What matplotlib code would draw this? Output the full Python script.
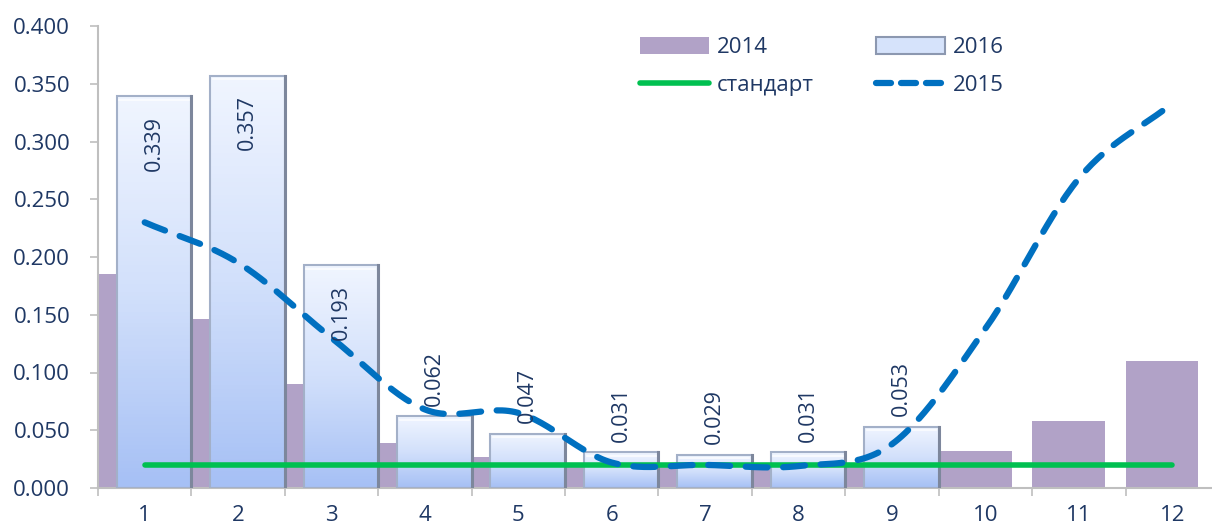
import matplotlib.pyplot as plt
import numpy as np
from matplotlib.colors import LinearSegmentedColormap
from matplotlib.patches import Rectangle
from matplotlib.lines import Line2D

plt.rcParams['font.family'] = ['Open Sans', 'DejaVu Sans']

months = [1, 2, 3, 4, 5, 6, 7, 8, 9, 10, 11, 12]
y2014 = [0.185, 0.146, 0.090, 0.039, 0.027, 0.018, 0.018, 0.016, 0.021, 0.032, 0.058, 0.110]
y2015 = [0.230, 0.195, 0.130, 0.068, 0.065, 0.022, 0.020, 0.019, 0.038, 0.138, 0.268, 0.333]
y2016 = [0.339, 0.357, 0.193, 0.062, 0.047, 0.031, 0.029, 0.031, 0.053]
standard = [0.02] * 12

navy = '#1F3864'


def smooth(x, y, n=30):
    # Catmull-Rom, like Excel's "smoothed line"
    x = np.asarray(x, float)
    y = np.asarray(y, float)
    px = np.concatenate(([2 * x[0] - x[1]], x, [2 * x[-1] - x[-2]]))
    py = np.concatenate(([2 * y[0] - y[1]], y, [2 * y[-1] - y[-2]]))
    t = np.linspace(0, 1, n)
    xs, ys = [], []
    for i in range(1, len(px) - 2):
        for p, out in ((px, xs), (py, ys)):
            p0, p1, p2, p3 = p[i - 1], p[i], p[i + 1], p[i + 2]
            out.append(0.5 * (2 * p1 + (-p0 + p2) * t + (2 * p0 - 5 * p1 + 4 * p2 - p3) * t ** 2
                              + (-p0 + 3 * p1 - 3 * p2 + p3) * t ** 3))
    return np.concatenate(xs), np.concatenate(ys)


fig = plt.figure(figsize=(12.12, 5.31), dpi=100)
# plot area runs a little past the right edge of the picture, as in the original
ax = fig.add_axes([98 / 1212, 43 / 531, 1121 / 1212, 462 / 531])

x = np.array(months, float)
ax.bar(x - 0.11, y2014, width=0.78, color='#B1A2C7', zorder=1)

cmap = LinearSegmentedColormap.from_list('g', ['#A6C0F5', '#D2E0FB', '#F0F5FF'])
x16 = x[:len(y2016)] + 0.1
bars = ax.bar(x16, y2016, width=0.8, color='none', edgecolor='#A3B0C8',
              linewidth=1.5, zorder=3)
for b in bars:
    x0, w, h = b.get_x(), b.get_width(), b.get_height()
    im = ax.imshow(np.linspace(0, 1, 100).reshape(-1, 1), cmap=cmap, origin='lower',
                   extent=[x0, x0 + w, 0, h], aspect='auto', zorder=2)
    im.set_clip_path(b)
    ax.plot([x0 + w, x0 + w], [0, h], color='#7D879C', lw=2.2, zorder=3.5)
    ax.plot([x0 + 0.03, x0 + w - 0.03], [h - 0.003, h - 0.003], color='white', lw=1.2, alpha=0.8, zorder=3.5)

for xi, v in zip(x16, y2016):
    if v > 0.1:
        ax.text(xi, v - 0.017, f'{v:.3f}', rotation=90, ha='center', va='top',
                fontsize=15.5, color=navy, zorder=5)
    else:
        ax.text(xi, v + 0.009, f'{v:.3f}', rotation=90, ha='center', va='bottom',
                fontsize=15.5, color=navy, zorder=5)

ax.plot(x, standard, color='#00C050', lw=4, solid_capstyle='round', zorder=4)
sx, sy = smooth(x, y2015)
ax.plot(sx, sy, color='#0070C0', lw=4.5, dashes=(3.5, 2.5), dash_capstyle='round', zorder=4)

ax.set_xlim(0.5, 12.5)
ax.set_ylim(0, 0.4)
ax.set_yticks(np.arange(0, 0.401, 0.05))
ax.set_yticklabels([f'{v:.3f}' for v in np.arange(0, 0.401, 0.05)])
ax.set_xticks(x)
ax.set_xticklabels([str(m) for m in months])
ax.set_xticks(np.arange(0.5, 12.6, 1), minor=True)
ax.tick_params(axis='x', which='major', length=0, pad=12, labelsize=16, labelcolor=navy)
ax.tick_params(axis='x', which='minor', length=6, color='#BFBFBF', width=1.2)
ax.tick_params(axis='y', length=6, color='#BFBFBF', width=1.2, pad=14, labelsize=16, labelcolor=navy)
for s in ['top', 'right']:
    ax.spines[s].set_visible(False)
for s in ['left', 'bottom']:
    ax.spines[s].set_color('#BFBFBF')
    ax.spines[s].set_linewidth(1.5)

handles = [
    Rectangle((0, 0), 1, 1, facecolor='#B1A2C7', edgecolor='none'),
    Line2D([], [], color='#00C050', lw=4, solid_capstyle='round'),
    Rectangle((0, 0), 1, 1, facecolor='#D6E3FB', edgecolor='#8C98B0', lw=1.5),
    Line2D([], [], color='#0070C0', lw=4.5, dashes=(2.4, 1.6), dash_capstyle='round'),
]
labels = ['2014', 'стандарт', '2016', '2015']
leg = fig.legend(handles, labels, ncol=2, frameon=False,
                 loc='upper left', bbox_to_anchor=(620 / 1212, 1 - 17 / 531), fontsize=16,
                 handlelength=3.1, handleheight=0.8, columnspacing=2.8, labelspacing=0.75,
                 handletextpad=0.35)
for t in leg.get_texts():
    t.set_color(navy)

fig.savefig('out.png', dpi=100)
